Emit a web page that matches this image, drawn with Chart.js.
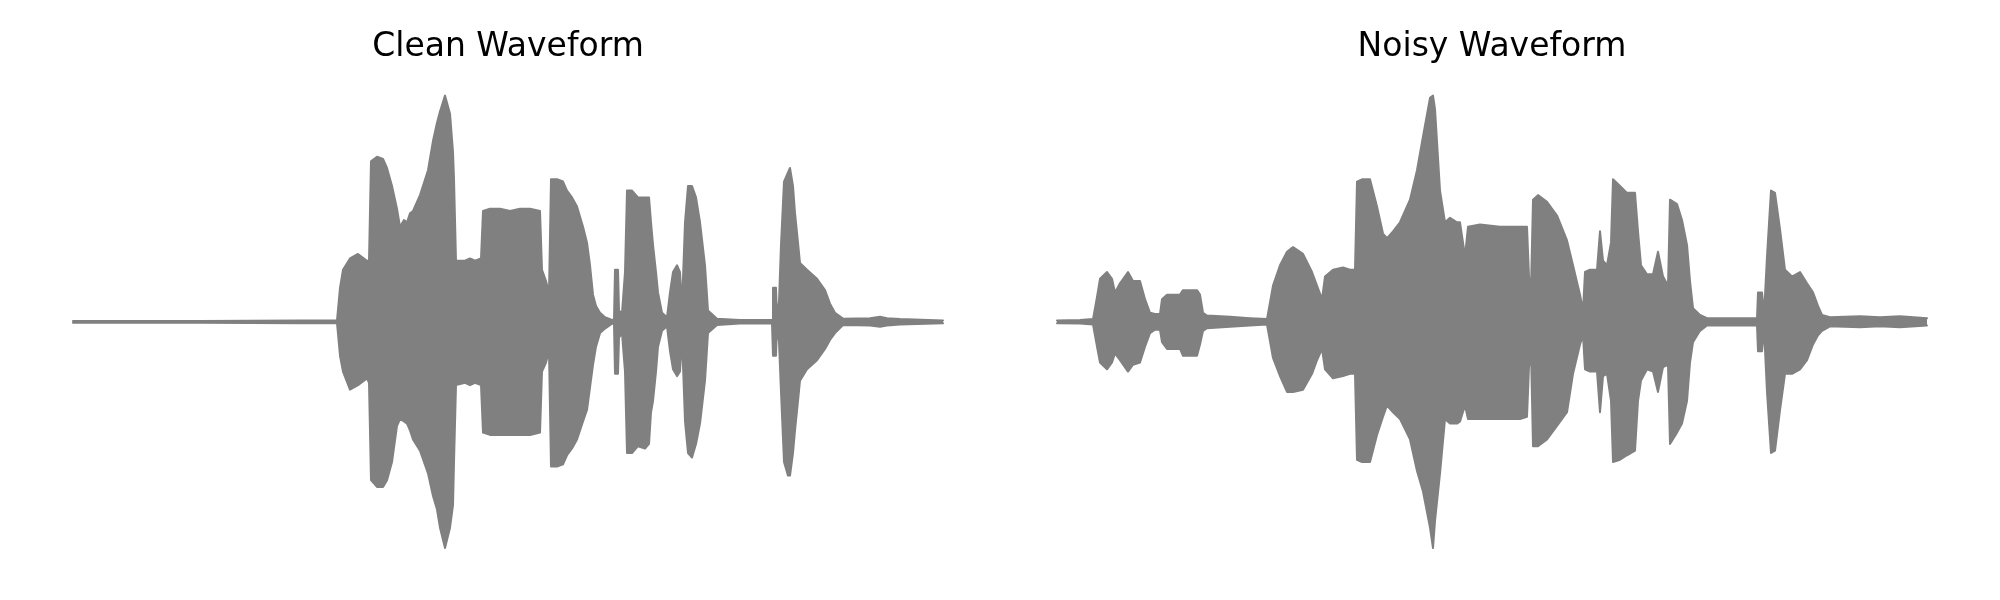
<!DOCTYPE html>
<html>
<head>
<meta charset="utf-8">
<script src="https://cdn.jsdelivr.net/npm/chart.js"></script>
<style>
  body { margin: 0; background: #fff; }
  #wrap { position: relative; width: 2000px; height: 600px; }
  .panel { position: absolute; top: 0; width: 1000px; height: 600px; }
</style>
</head>
<body>
<div id="wrap">
  <div class="panel" style="left:0"><canvas id="cleanChart" width="1000" height="600"></canvas></div>
  <div class="panel" style="left:1000px"><canvas id="noisyChart" width="1000" height="600"></canvas></div>
</div>
<script>
// envelope of the waveform (time in s, amplitude normalised to the loudest peak)
const cleanTime = [
  0, 0.508, 0.908, 1.056, 1.068, 1.08, 1.108, 1.14, 1.176, 1.184,
  1.192, 1.216, 1.24, 1.256, 1.276, 1.296, 1.308, 1.324, 1.336, 1.348,
  1.36, 1.388, 1.42, 1.44, 1.456, 1.468, 1.488, 1.508, 1.52, 1.524,
  1.532, 1.568, 1.588, 1.608, 1.632, 1.64, 1.668, 1.708, 1.748, 1.788,
  1.828, 1.868, 1.876, 1.892, 1.904, 1.912, 1.936, 1.96, 1.976, 1.996,
  2.016, 2.04, 2.056, 2.068, 2.08, 2.092, 2.108, 2.128, 2.156, 2.164,
  2.168, 2.18, 2.184, 2.196, 2.208, 2.216, 2.236, 2.26, 2.288, 2.304,
  2.312, 2.32, 2.332, 2.34, 2.356, 2.376, 2.388, 2.4, 2.416, 2.428,
  2.436, 2.448, 2.46, 2.476, 2.492, 2.508, 2.528, 2.54, 2.576, 2.668,
  2.796, 2.8, 2.812, 2.816, 2.824, 2.832, 2.844, 2.86, 2.868, 2.88,
  2.888, 2.9, 2.908, 2.936, 2.976, 3.008, 3.028, 3.048, 3.08, 3.188,
  3.228, 3.256, 3.308, 3.48
];
const cleanUpper = [
  0.004, 0.004, 0.006, 0.006, 0.15, 0.23, 0.28, 0.30, 0.27, 0.27,
  0.71, 0.73, 0.72, 0.68, 0.60, 0.50, 0.42, 0.45, 0.44, 0.48,
  0.49, 0.56, 0.67, 0.80, 0.88, 0.93, 1.00, 0.92, 0.75, 0.63,
  0.27, 0.27, 0.28, 0.27, 0.28, 0.49, 0.50, 0.50, 0.49, 0.50,
  0.50, 0.49, 0.23, 0.18, 0.13, 0.63, 0.63, 0.62, 0.58, 0.55,
  0.51, 0.42, 0.35, 0.25, 0.12, 0.07, 0.04, 0.02, 0.008, 0.01,
  0.23, 0.23, 0.05, 0.04, 0.22, 0.58, 0.58, 0.55, 0.55, 0.55,
  0.44, 0.34, 0.22, 0.13, 0.04, 0.02, 0.13, 0.22, 0.25, 0.22,
  0.07, 0.44, 0.60, 0.60, 0.55, 0.44, 0.25, 0.05, 0.014, 0.008,
  0.008, 0.15, 0.15, 0.02, 0.09, 0.34, 0.62, 0.66, 0.68, 0.60,
  0.48, 0.35, 0.26, 0.23, 0.19, 0.14, 0.08, 0.04, 0.014, 0.016,
  0.022, 0.016, 0.012, 0.006
];
const cleanLower = [
  -0.004, -0.004, -0.006, -0.006, -0.15, -0.22, -0.30, -0.28, -0.25, -0.27,
  -0.70, -0.73, -0.73, -0.70, -0.62, -0.46, -0.43, -0.44, -0.45, -0.48,
  -0.52, -0.57, -0.67, -0.77, -0.83, -0.91, -1.00, -0.91, -0.81, -0.62,
  -0.28, -0.27, -0.28, -0.27, -0.28, -0.49, -0.50, -0.50, -0.50, -0.50,
  -0.50, -0.49, -0.22, -0.18, -0.13, -0.64, -0.64, -0.63, -0.59, -0.56,
  -0.52, -0.44, -0.39, -0.29, -0.19, -0.11, -0.05, -0.03, -0.008, -0.01,
  -0.23, -0.23, -0.07, -0.05, -0.22, -0.58, -0.58, -0.55, -0.56, -0.54,
  -0.40, -0.35, -0.22, -0.11, -0.04, -0.02, -0.13, -0.21, -0.24, -0.22,
  -0.07, -0.44, -0.58, -0.60, -0.54, -0.45, -0.26, -0.05, -0.014, -0.008,
  -0.008, -0.15, -0.15, -0.02, -0.09, -0.31, -0.62, -0.68, -0.68, -0.58,
  -0.48, -0.35, -0.26, -0.21, -0.17, -0.12, -0.08, -0.05, -0.014, -0.016,
  -0.022, -0.016, -0.012, -0.006
];

const noisyTime = [
  0, 0.092, 0.144, 0.16, 0.172, 0.2, 0.22, 0.232, 0.252, 0.284,
  0.304, 0.332, 0.352, 0.372, 0.392, 0.412, 0.42, 0.44, 0.492, 0.504,
  0.56, 0.572, 0.584, 0.6, 0.692, 0.772, 0.84, 0.864, 0.892, 0.92,
  0.944, 0.984, 1.02, 1.04, 1.06, 1.072, 1.104, 1.144, 1.172, 1.192,
  1.2, 1.22, 1.252, 1.28, 1.304, 1.32, 1.344, 1.372, 1.412, 1.44,
  1.464, 1.492, 1.504, 1.512, 1.532, 1.552, 1.572, 1.6, 1.612, 1.632,
  1.644, 1.692, 1.772, 1.852, 1.88, 1.888, 1.896, 1.904, 1.924, 1.96,
  2.0, 2.04, 2.064, 2.092, 2.104, 2.112, 2.132, 2.16, 2.172, 2.184,
  2.2, 2.216, 2.224, 2.252, 2.28, 2.312, 2.324, 2.336, 2.36, 2.384,
  2.404, 2.424, 2.444, 2.452, 2.48, 2.5, 2.52, 2.532, 2.544, 2.572,
  2.6, 2.8, 2.804, 2.82, 2.828, 2.84, 2.856, 2.872, 2.892, 2.912,
  2.94, 2.972, 3.0, 3.024, 3.044, 3.06, 3.092, 3.212, 3.292, 3.372, 3.48
];
const noisyUpper = [
  0.006, 0.008, 0.012, 0.11, 0.19, 0.22, 0.19, 0.13, 0.17, 0.22,
  0.18, 0.18, 0.10, 0.04, 0.035, 0.035, 0.10, 0.12, 0.12, 0.14,
  0.14, 0.12, 0.04, 0.028, 0.022, 0.016, 0.012, 0.16, 0.25, 0.31,
  0.33, 0.30, 0.22, 0.16, 0.10, 0.20, 0.23, 0.24, 0.23, 0.23,
  0.62, 0.63, 0.63, 0.51, 0.39, 0.37, 0.40, 0.44, 0.54, 0.67,
  0.82, 0.99, 1.00, 0.94, 0.58, 0.44, 0.46, 0.44, 0.44, 0.29,
  0.42, 0.43, 0.42, 0.42, 0.42, 0.20, 0.15, 0.54, 0.56, 0.53,
  0.47, 0.36, 0.25, 0.12, 0.05, 0.22, 0.23, 0.23, 0.40, 0.27,
  0.25, 0.35, 0.63, 0.60, 0.57, 0.57, 0.40, 0.25, 0.21, 0.21,
  0.31, 0.20, 0.16, 0.54, 0.52, 0.45, 0.34, 0.18, 0.06, 0.03,
  0.016, 0.016, 0.13, 0.13, 0.03, 0.29, 0.58, 0.57, 0.41, 0.23,
  0.20, 0.22, 0.17, 0.13, 0.07, 0.03, 0.02, 0.024, 0.02, 0.024, 0.016
];
const noisyLower = [
  -0.006, -0.008, -0.012, -0.11, -0.18, -0.21, -0.18, -0.14, -0.17, -0.22,
  -0.19, -0.18, -0.11, -0.05, -0.035, -0.035, -0.09, -0.12, -0.12, -0.15,
  -0.15, -0.10, -0.04, -0.028, -0.022, -0.016, -0.012, -0.16, -0.24, -0.31,
  -0.31, -0.30, -0.23, -0.17, -0.12, -0.21, -0.25, -0.24, -0.23, -0.23,
  -0.61, -0.62, -0.62, -0.50, -0.42, -0.37, -0.40, -0.43, -0.52, -0.66,
  -0.75, -0.91, -1.00, -0.88, -0.67, -0.43, -0.45, -0.45, -0.44, -0.37,
  -0.43, -0.43, -0.43, -0.43, -0.42, -0.20, -0.13, -0.55, -0.55, -0.52,
  -0.46, -0.40, -0.23, -0.10, -0.06, -0.21, -0.22, -0.22, -0.40, -0.24,
  -0.23, -0.35, -0.62, -0.61, -0.59, -0.57, -0.35, -0.26, -0.21, -0.22,
  -0.31, -0.20, -0.19, -0.54, -0.49, -0.45, -0.35, -0.18, -0.09, -0.04,
  -0.016, -0.016, -0.13, -0.13, -0.03, -0.31, -0.58, -0.57, -0.39, -0.23,
  -0.23, -0.21, -0.17, -0.10, -0.06, -0.04, -0.02, -0.024, -0.02, -0.024, -0.016
];

const chartTitles = ["Clean Waveform", "Noisy Waveform"];
const waveColor = "gray";

function toPoints(times, values) {
    return times.map((t, i) => ({ x: t, y: values[i] }));
}

function drawWave(canvasId, title, times, upper, lower, padLeft, padRight) {
    let ctx = document.getElementById(canvasId).getContext("2d");
    const lineStyle = {
        borderColor: waveColor,
        backgroundColor: waveColor,
        borderWidth: 2,
        pointRadius: 0,
        tension: 0,
        clip: false,
        borderJoinStyle: "round",
        borderCapStyle: "round"
    };
    return new Chart(ctx, {
        type: "line",
        data: {
            datasets: [
                { ...lineStyle, data: toPoints(times, upper), fill: "+1" },
                { ...lineStyle, data: toPoints(times, lower), fill: false }
            ]
        },
        options: {
            responsive: false,
            animation: false,
            devicePixelRatio: 1,
            layout: { padding: { left: padLeft, right: padRight, top: 0, bottom: 52 } },
            scales: {
                x: { type: "linear", display: false, min: 0, max: 3.48 },
                y: { display: false, min: -1, max: 1 }
            },
            plugins: {
                legend: { display: false },
                tooltip: { enabled: false },
                title: {
                    display: true,
                    text: title,
                    fullSize: false,
                    color: "#000",
                    font: { family: "DejaVu Sans", size: 33, weight: "normal" },
                    padding: { top: 28, bottom: 28 }
                }
            }
        }
    });
}

drawWave("cleanChart", chartTitles[0], cleanTime, cleanUpper, cleanLower, 73, 57);
drawWave("noisyChart", chartTitles[1], noisyTime, noisyUpper, noisyLower, 57, 73);
</script>
</body>
</html>
